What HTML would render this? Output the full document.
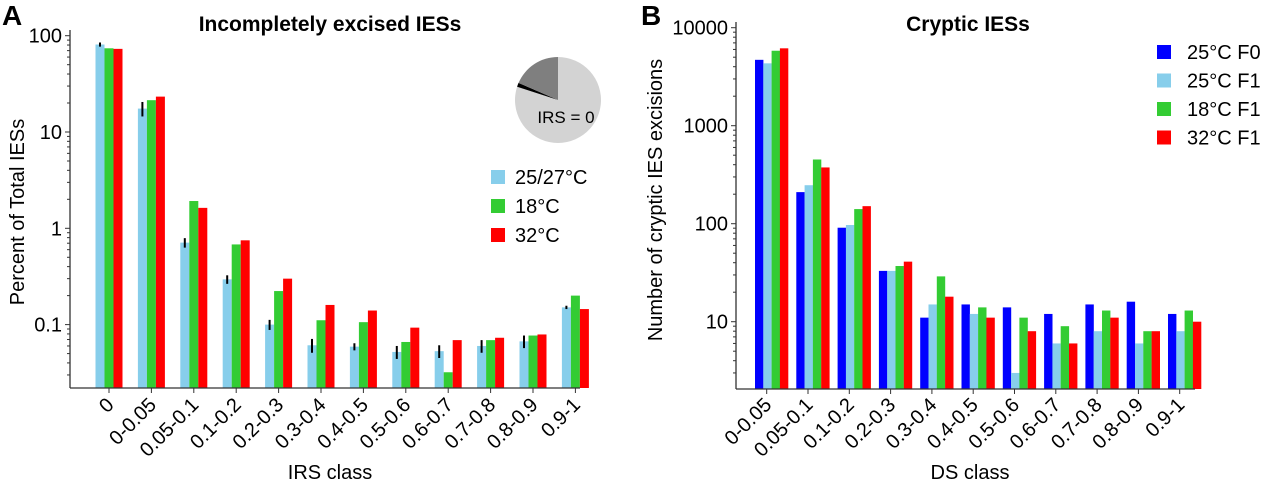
<!DOCTYPE html>
<html><head><meta charset="utf-8"><style>
body{margin:0;background:#fff}
svg{font-family:"Liberation Sans",Arial,sans-serif}
</style></head><body>
<svg id="c" width="1280" height="483" xmlns="http://www.w3.org/2000/svg"></svg>
<script>
const catsA=["0","0-0.05","0.05-0.1","0.1-0.2","0.2-0.3","0.3-0.4","0.4-0.5","0.5-0.6","0.6-0.7","0.7-0.8","0.8-0.9","0.9-1"];
const a25=[81,17.5,0.71,0.295,0.10,0.061,0.059,0.052,0.053,0.060,0.067,0.151];
const a25err=[4,3,0.08,0.03,0.012,0.01,0.005,0.008,0.008,0.009,0.01,0.006];
const a18=[74,21.4,1.92,0.68,0.223,0.111,0.106,0.066,0.032,0.069,0.077,0.20];
const a32=[73,23.3,1.63,0.75,0.30,0.16,0.14,0.093,0.069,0.073,0.079,0.145];
const ticksA=[100,10,1,0.1];
const tickLabA=["100","10","1","0.1"];
const catsB=["0-0.05","0.05-0.1","0.1-0.2","0.2-0.3","0.3-0.4","0.4-0.5","0.5-0.6","0.6-0.7","0.7-0.8","0.8-0.9","0.9-1"];
const b25F0=[4700,210,91,33,11,15,14,12,15,16,12];
const b25F1=[4330,247,97,33,15,12,3,6,8,6,8];
const b18F1=[5820,452,141,37,29,14,11,9,13,8,13];
const b32F1=[6160,375,151,41,18,11,8,6,11,8,10];
const ticksB=[10000,1000,100,10];
const tickLabB=["10000","1000","100","10"];
const pieVals=[80,1.5,18.5];

const NS="http://www.w3.org/2000/svg",svg=document.getElementById('c');
function el(t,a,p){const e=document.createElementNS(NS,t);for(const k in a)e.setAttribute(k,a[k]);(p||svg).appendChild(e);return e;}
function txt(s,a,p){const e=el('text',a,p);e.textContent=s;return e;}
const LB="#87ceeb",GR="#33cc33",RD="#ff0000",BL="#0000ff";

const yA=v=>228.3-96.3*Math.log10(v);
const xA=i=>109+42.4*i;
const gA=el('g',{});

const barsA=[[a25,LB,-9,'25-27c'],[a18,GR,0,'18c'],[a32,RD,9,'32c']];
barsA.forEach(([arr,col,off,nm])=>{arr.forEach((v,i)=>{
 const r=el('rect',{x:xA(i)+off-4.5,y:yA(v),width:9,height:388-yA(v),fill:col},gA);
 
 
});});
a25.forEach((v,i)=>{const e=a25err[i];
 const l=el('line',{x1:xA(i)-9,x2:xA(i)-9,y1:yA(v+e),y2:yA(Math.max(v-e,v*0.5)),stroke:'#000','stroke-width':2},gA);
 
 
});
el('line',{x1:70,y1:30,x2:70,y2:388,stroke:'#333','stroke-width':1.3},gA);
el('line',{x1:70,y1:388,x2:580,y2:388,stroke:'#333','stroke-width':1.3},gA);
ticksA.forEach((t,k)=>{el('line',{x1:65,x2:70,y1:yA(t),y2:yA(t),stroke:'#333'},gA);
 const tl=txt(tickLabA[k],{x:62,y:yA(t)+7,'text-anchor':'end','font-size':20},gA);
 });
for(let d=-2;d<2;d++)for(let m=2;m<10;m++){const v=m*Math.pow(10,d);if(yA(v)<388&&yA(v)>30)el('line',{x1:67,x2:70,y1:yA(v),y2:yA(v),stroke:'#333'},gA);}
catsA.forEach((c,i)=>{el('line',{x1:xA(i),x2:xA(i),y1:388,y2:393,stroke:'#333'},gA);
 const t=txt(c,{x:xA(i)+6,y:406,'text-anchor':'end','font-size':20,transform:`rotate(-45 ${xA(i)+6} 406)`},gA);
 });
txt('A',{x:2,y:25,'font-size':28,'font-weight':'bold'},gA);
txt('Incompletely excised IESs',{x:330,y:31,'text-anchor':'middle','font-size':21,'font-weight':'bold'},gA);
txt('Percent of Total IESs',{x:24,y:212,'text-anchor':'middle','font-size':20,transform:'rotate(-90 24 212)'},gA);
txt('IRS class',{x:330,y:479,'text-anchor':'middle','font-size':20},gA);
const cx=558,cy=100,R=43,tot=pieVals.reduce((a,b)=>a+b,0);const pc=["#d3d3d3","#000","#7f7f7f"];
let ang=0;
pieVals.forEach((v,k)=>{const a0=ang,a1=ang+v/tot*2*Math.PI;ang=a1;
 const p=(a)=>[cx+R*Math.sin(a),cy-R*Math.cos(a)];const [x0,y0]=p(a0),[x1,y1]=p(a1);
 const s=el('path',{d:`M${cx},${cy}L${x0},${y0}A${R},${R} 0 ${a1-a0>Math.PI?1:0} 1 ${x1},${y1}Z`,fill:pc[k]},gA);
 });
txt('IRS = 0',{x:566,y:123,'text-anchor':'middle','font-size':17},gA);
[["25/27°C",LB],["18°C",GR],["32°C",RD]].forEach(([l,c],k)=>{const y=177+29*k;
 const g=el('g',{},gA);
 el('rect',{x:491,y:y-7,width:14,height:14,fill:c},g);txt(l,{x:515,y:y+7,'font-size':20},g);});

const yB=v=>321.7-98*(Math.log10(v)-1);
const xB=i=>766.7+41.3*i;
const gB=el('g',{});

[[b25F0,BL,'25c-f0'],[b25F1,LB,'25c-f1'],[b18F1,GR,'18c-f1'],[b32F1,RD,'32c-f1']].forEach(([arr,col,nm],s)=>{arr.forEach((v,i)=>{
 const r=el('rect',{x:xB(i)-11.7+8.3*s,y:yB(v),width:8.4,height:389-yB(v),fill:col},gB);
 
 
});});
el('line',{x1:736,y1:22,x2:736,y2:389,stroke:'#333','stroke-width':1.3},gB);
el('line',{x1:736,y1:389,x2:1195,y2:389,stroke:'#333','stroke-width':1.3},gB);
ticksB.forEach((t,k)=>{el('line',{x1:731,x2:736,y1:yB(t),y2:yB(t),stroke:'#333'},gB);
 const tl=txt(tickLabB[k],{x:728,y:yB(t)+7,'text-anchor':'end','font-size':20},gB);
 });
for(let d=0;d<4;d++)for(let m=2;m<10;m++){const v=m*Math.pow(10,d);if(yB(v)<389&&yB(v)>22)el('line',{x1:733,x2:736,y1:yB(v),y2:yB(v),stroke:'#333'},gB);}
catsB.forEach((c,i)=>{el('line',{x1:xB(i),x2:xB(i),y1:389,y2:394,stroke:'#333'},gB);
 const t=txt(c,{x:xB(i)+6,y:406,'text-anchor':'end','font-size':20,transform:`rotate(-45 ${xB(i)+6} 406)`},gB);
 });
txt('B',{x:641,y:25,'font-size':28,'font-weight':'bold'},gB);
txt('Cryptic IESs',{x:968,y:31,'text-anchor':'middle','font-size':21,'font-weight':'bold'},gB);
txt('Number of cryptic IES excisions',{x:662,y:200,'text-anchor':'middle','font-size':20,transform:'rotate(-90 662 200)'},gB);
txt('DS class',{x:970,y:479,'text-anchor':'middle','font-size':20},gB);
[["25°C F0",BL],["25°C F1",LB],["18°C F1",GR],["32°C F1",RD]].forEach(([l,c],k)=>{const y=52+28.5*k;
 const g=el('g',{},gB);
 el('rect',{x:1157,y:y-7,width:14,height:14,fill:c},g);txt(l,{x:1187,y:y+7,'font-size':20},g);});
</script>
</body></html>
